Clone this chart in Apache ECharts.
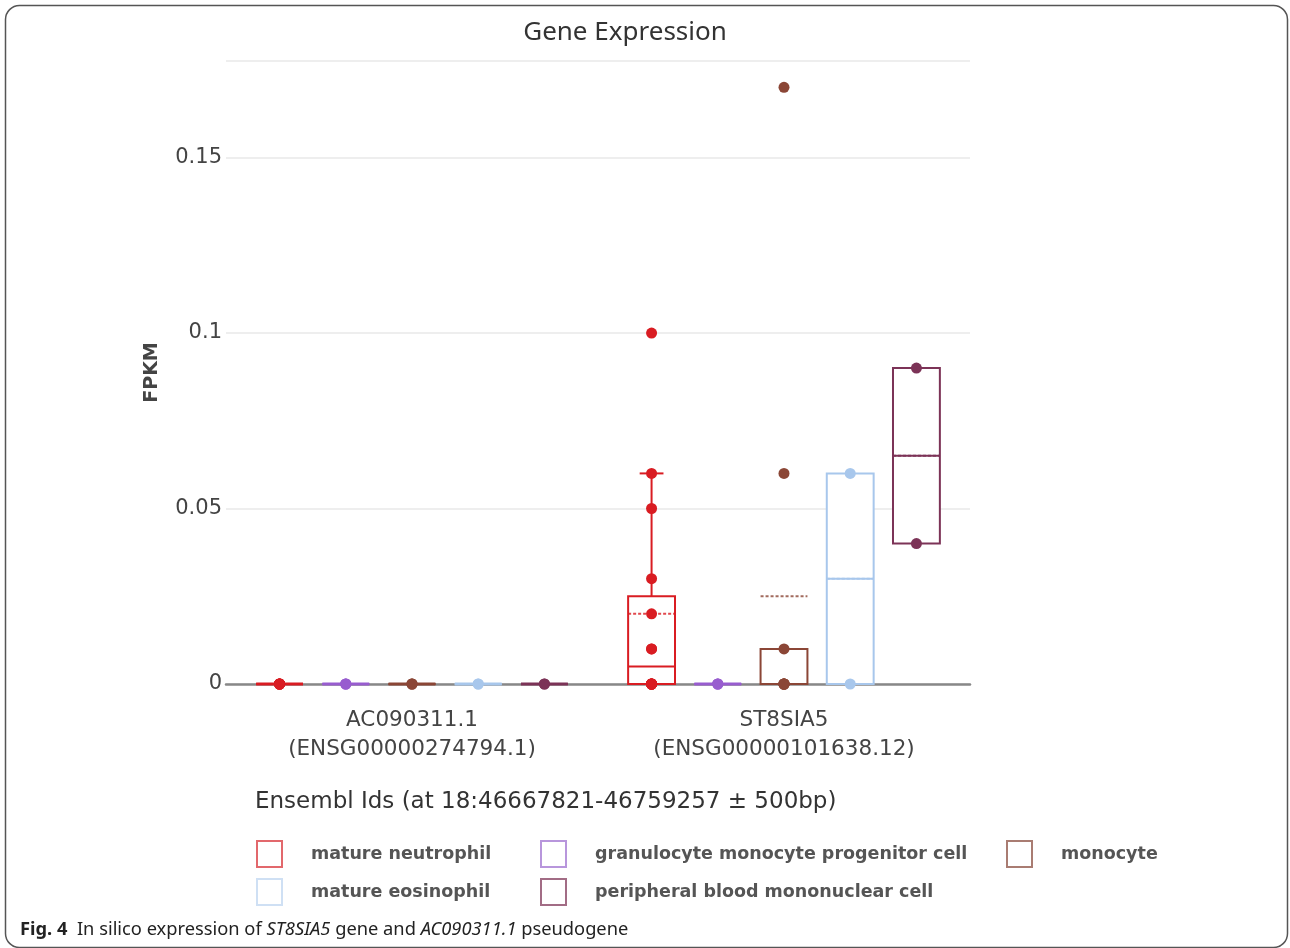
<!DOCTYPE html>
<html>
<head>
<meta charset="utf-8">
<title>Gene Expression</title>
<script src="https://cdn.jsdelivr.net/npm/echarts@6/dist/echarts.min.js"></script>
<style>
  html, body { margin: 0; padding: 0; background: #fff; }
  #main { width: 1290px; height: 948px; }
</style>
</head>
<body>
<div id="main"></div>
<script>
// genes on the x axis
var genes = ['AC090311.1\n(ENSG00000274794.1)', 'ST8SIA5\n(ENSG00000101638.12)'];
var cellTypes = ['mature neutrophil', 'granulocyte monocyte progenitor cell', 'monocyte', 'mature eosinophil', 'peripheral blood mononuclear cell'];

// box stats per gene : [lower whisker, q1, median, q3, upper whisker, mean]
var neutrophilBox = [[0, 0, 0, 0, 0, 0], [0, 0, 0.005, 0.025, 0.06, 0.02]];
var gmpBox = [[0, 0, 0, 0, 0, 0], [0, 0, 0, 0, 0, 0]];
var monocyteBox = [[0, 0, 0, 0, 0, 0], [0, 0, 0, 0.01, 0.01, 0.025]];
var eosinophilBox = [[0, 0, 0, 0, 0, 0], [0, 0, 0.03, 0.06, 0.06, 0.03]];
var pbmcBox = [[0, 0, 0, 0, 0, 0], [0.04, 0.04, 0.065, 0.09, 0.09, 0.065]];

// individual samples (FPKM) per gene
var neutrophilPts = [[0, 0, 0, 0, 0, 0], [0, 0, 0, 0, 0, 0, 0, 0.01, 0.01, 0.02, 0.03, 0.05, 0.06, 0.1]];
var gmpPts = [[0, 0, 0], [0, 0, 0]];
var monocytePts = [[0, 0, 0], [0, 0, 0, 0, 0, 0, 0.01, 0.06, 0.17]];
var eosinophilPts = [[0, 0], [0, 0.06]];
var pbmcPts = [[0, 0], [0.04, 0.09]];

var yTicks = [0, 0.05, 0.1, 0.15];

var boxes = [neutrophilBox, gmpBox, monocyteBox, eosinophilBox, pbmcBox];
var points = [neutrophilPts, gmpPts, monocytePts, eosinophilPts, pbmcPts];
var colors = ['#d91c22', '#985dcf', '#8b4636', '#a8c7ec', '#7c3357'];
var legendColors = ['#e2686c', '#b896dc', '#a97c72', '#cfe0f4', '#a26c85'];

// layout of the boxes inside one category (in category units)
var OFFSET = 0.178;
var BOX_HALF = 0.063;
var CAP_HALF = 0.032;

function renderBox(params, api) {
	var x = api.value(0);
	var lw = api.value(1), q1 = api.value(2), med = api.value(3), q3 = api.value(4), uw = api.value(5), mean = api.value(6);
	var color = api.visual('color');
	var left = api.coord([x - BOX_HALF, 0])[0];
	var right = api.coord([x + BOX_HALF, 0])[0];
	var cx = api.coord([x, 0])[0];
	var capL = api.coord([x - CAP_HALF, 0])[0];
	var capR = api.coord([x + CAP_HALF, 0])[0];
	function y(v) { return api.coord([x, v])[1]; }
	var line = { stroke: color, lineWidth: 2, fill: null };
	var children = [];

	if (uw > q3) {
		children.push({ type: 'line', shape: { x1: cx, y1: y(q3), x2: cx, y2: y(uw) }, style: line });
		children.push({ type: 'line', shape: { x1: capL, y1: y(uw), x2: capR, y2: y(uw) }, style: line });
	}
	if (lw < q1) {
		children.push({ type: 'line', shape: { x1: cx, y1: y(q1), x2: cx, y2: y(lw) }, style: line });
		children.push({ type: 'line', shape: { x1: capL, y1: y(lw), x2: capR, y2: y(lw) }, style: line });
	}
	children.push({ type: 'rect', shape: { x: left, y: y(q3), width: right - left, height: y(q1) - y(q3) },
		style: { fill: q3 > q1 ? '#fff' : null, stroke: color, lineWidth: q3 > q1 ? 2 : 3 } });
	children.push({ type: 'line', shape: { x1: left, y1: y(med), x2: right, y2: y(med) }, style: line });
	children.push({ type: 'line', shape: { x1: left, y1: y(mean), x2: right, y2: y(mean) },
		style: { stroke: color, lineWidth: 2, lineDash: [3, 2], opacity: 0.8 } });
	return { type: 'group', children: children };
}

var series = [];
for (var k = 0; k < cellTypes.length; k++) {
	var off = (k - 2) * OFFSET;
	var boxData = [];
	var ptData = [];
	for (var i = 0; i < genes.length; i++) {
		boxData.push([i + off].concat(boxes[k][i]));
		for (var j = 0; j < points[k][i].length; j++) {
			ptData.push([i + off, points[k][i][j]]);
		}
	}
	series.push({
		name: cellTypes[k],
		type: 'custom',
		xAxisIndex: 1,
		yAxisIndex: 0,
		renderItem: renderBox,
		itemStyle: { color: colors[k] },
		encode: { x: 0, y: [1, 2, 3, 4, 5] },
		data: boxData,
		z: 2
	});
	series.push({
		name: cellTypes[k],
		type: 'scatter',
		xAxisIndex: 1,
		yAxisIndex: 0,
		symbolSize: 11,
		itemStyle: { color: colors[k], opacity: 1 },
		data: ptData,
		z: 3
	});
}

// one legend per item so the columns line up as in the figure
var legendPos = [[251, 835], [535, 835], [1001, 835], [251, 873], [535, 873]];
var legends = [];
for (var m = 0; m < cellTypes.length; m++) {
	legends.push({
		left: legendPos[m][0],
		top: legendPos[m][1],
		itemWidth: 25,
		itemHeight: 26,
		selectedMode: false,
		textStyle: { fontFamily: 'DejaVu Sans', fontWeight: 'bold', fontSize: 17.5, color: '#555', padding: [0, 0, 0, 24] },
		data: [{ name: cellTypes[m], icon: 'rect', itemStyle: { color: '#fff', borderColor: legendColors[m], borderWidth: 2 } }]
	});
}

var myChart = echarts.init(document.getElementById('main'));
var option = {
	animation: false,
	backgroundColor: '#fff',
	title: [{
		text: 'Gene Expression',
		left: 620,
		top: 15,
		textAlign: 'center',
		textStyle: { fontFamily: 'Noto Sans', fontWeight: 'normal', fontSize: 26, color: '#333' }
	}, {
		text: 'Ensembl Ids (at 18:46667821-46759257 ± 500bp)',
		left: 250,
		top: 786,
		textStyle: { fontFamily: 'DejaVu Sans', fontWeight: 'normal', fontSize: 23, color: '#333' }
	}, {
		text: '{b|Fig. 4}  In silico expression of {i|ST8SIA5} gene and {i|AC090311.1} pseudogene',
		left: 15,
		top: 916,
		textStyle: {
			fontFamily: 'Noto Sans', fontWeight: 'normal', fontSize: 18.3, color: '#222',
			rich: {
				b: { fontFamily: 'Noto Sans', fontWeight: 'bold', fontSize: 18.3, color: '#222' },
				i: { fontFamily: 'Noto Sans', fontStyle: 'italic', fontSize: 18.3, color: '#222' }
			}
		}
	}],
	legend: legends,
	grid: { left: 226, right: 320, top: 61, bottom: 264 },
	xAxis: [{
		type: 'category',
		data: genes,
		axisTick: { show: false },
		axisLine: { show: true, lineStyle: { color: '#888', width: 2.5 } },
		axisLabel: { fontFamily: 'DejaVu Sans', fontSize: 21.5, color: '#444', lineHeight: 29, margin: 22 },
		splitLine: { show: false }
	}, {
		type: 'value',
		min: -0.5,
		max: 1.5,
		show: false
	}],
	yAxis: {
		type: 'value',
		min: 0,
		max: 0.1775,
		interval: 0.05,
		name: 'FPKM',
		nameLocation: 'middle',
		nameGap: 64,
		nameTextStyle: { fontFamily: 'DejaVu Sans', fontWeight: 'bold', fontSize: 19, color: '#444' },
		axisLine: { show: false },
		axisTick: { show: false },
		axisLabel: {
			showMaxLabel: false,
			margin: 4,
			fontFamily: 'DejaVu Sans',
			fontSize: 21,
			color: '#444',
			formatter: function (v) { return yTicks.indexOf(Math.round(v * 100) / 100) >= 0 && Math.abs(v * 100 - Math.round(v * 100)) < 1e-6 ? String(Math.round(v * 100) / 100) : ''; }
		},
		splitLine: { lineStyle: { color: '#eeeeee', width: 2 } }
	},
	graphic: [{
		type: 'rect',
		shape: { x: 5.5, y: 5.5, width: 1282, height: 942, r: 14 },
		style: { fill: null, stroke: '#555', lineWidth: 1.5 },
		silent: true
	}],
	series: series
};

myChart.setOption(option);
</script>
</body>
</html>
